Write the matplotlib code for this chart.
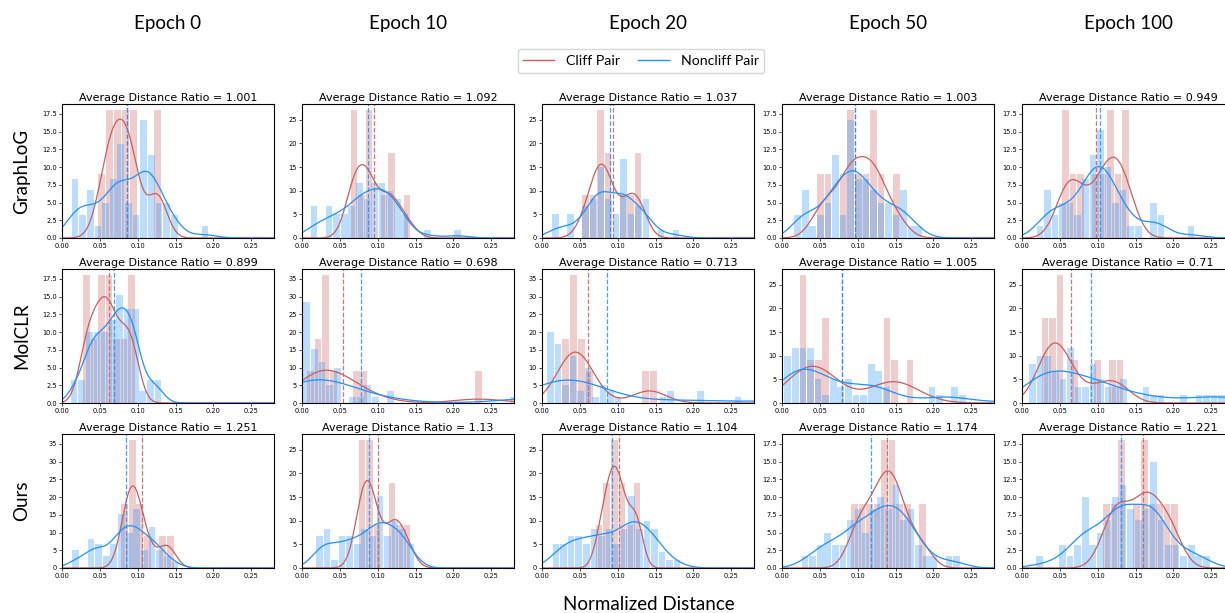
import numpy as np
import matplotlib
matplotlib.use("Agg")
import matplotlib.pyplot as plt
from matplotlib.lines import Line2D
from matplotlib.ticker import MaxNLocator, FormatStrFormatter

methods = ["GraphLoG", "MolCLR", "Ours"]
epochs = ["Epoch 0", "Epoch 10", "Epoch 20", "Epoch 50", "Epoch 100"]
ratio_labels = [
    ["1.001", "1.092", "1.037", "1.003", "0.949"],
    ["0.899", "0.698", "0.713", "1.005", "0.71"],
    ["1.251", "1.13", "1.104", "1.174", "1.221"],
]

# mean normalized distance per panel (dashed lines)
cliff_mean = [
    [0.0853, 0.0948, 0.0935, 0.0965, 0.0978],
    [0.0620, 0.0548, 0.0614, 0.0790, 0.0645],
    [0.1060, 0.1000, 0.1016, 0.1385, 0.1600],
]
noncliff_mean = [
    [0.0853, 0.0869, 0.0900, 0.0965, 0.1030],
    [0.0690, 0.0780, 0.0860, 0.0790, 0.0908],
    [0.0844, 0.0890, 0.0920, 0.1180, 0.1310],
]

# histograms: (first bin centre, bin width, density per bin)
graphlog_cliff = [
    (0.0523, 0.0105, [9, 18, 18, 18, 18, 0, 0, 18]),
    (0.0685, 0.0100, [27, 9, 27, 0, 9, 18, 0, 9]),
    (0.0575, 0.0099, [9, 9, 27, 18, 0, 9, 9, 18]),
    (0.0509, 0.0100, [9, 9, 0, 9, 18, 9, 9, 18, 9, 0, 9]),
    (0.0575, 0.0099, [18, 9, 9, 0, 9, 9, 18, 9, 18]),
]
graphlog_noncliff = [
    (0.0171, 0.0101, [8.3, 3.3, 6.7, 1.7, 5.0, 8.3, 13.3, 5.0, 3.3, 16.7, 11.7, 5.0, 5.0, 3.3, 0, 0, 0, 1.7]),
    (0.0158, 0.0100, [6.7, 0, 6.7, 5.0, 5.0, 6.7, 11.7, 8.3, 11.7, 11.7, 10.0, 8.3, 5.0, 0, 0, 1.7, 0, 0, 0, 1.7]),
    (0.0180, 0.00995, [5.0, 0, 5.0, 0, 6.7, 8.3, 15.0, 8.3, 5.0, 16.7, 5.0, 6.7, 8.3, 0, 1.7, 0, 1.7]),
    (0.0206, 0.0100, [3.3, 6.7, 1.7, 3.3, 5.0, 11.7, 3.3, 16.7, 8.3, 8.3, 6.7, 5.0, 5.0, 3.3, 6.7, 1.7, 1.7]),
    (0.0237, 0.00998, [1.7, 6.7, 3.3, 5.0, 5.0, 3.3, 8.3, 11.7, 15.2, 10.0, 5.0, 6.7, 1.7, 1.7, 0, 5.0, 3.3, 0, 0, 0, 1.7]),
]
molclr_cliff = [
    (0.0325, 0.0099, [18, 9, 18, 18, 9, 9, 18]),
    (0.0110, 0.0101, [9, 18, 36, 9, 0, 0, 9, 9] + [0] * 14 + [9]),
    (0.0316, 0.0105, [18, 36, 18, 9, 0, 0, 0, 0, 0, 0, 9, 9]),
    (0.0276, 0.0101, [27, 9, 9, 18, 0, 0, 0, 0, 0, 0, 0, 18, 9, 0, 9]),
    (0.0303, 0.0099, [18, 18, 27, 0, 9, 0, 0, 9, 0, 9, 9]),
]
molclr_noncliff = [
    (0.0158, 0.0101, [3.3, 3.3, 10.0, 10.0, 10.0, 11.7, 15.2, 13.3, 13.3, 1.7, 3.3, 3.3]),
    (0.0061, 0.0101, [28.6, 15.2, 11.7, 5.0, 10.0, 0, 1.7, 1.7, 5.0, 1.7, 0, 3.3] + [0] * 15
     + [1.7, 1.7, 1.7, 3.3, 1.7, 3.3, 1.7, 1.7]),
    (0.0114, 0.0099, [20.0, 16.7, 5.0, 13.3, 3.3, 10.0, 1.7, 5.0, 3.3, 1.7, 0, 0, 0, 0, 0, 1.7, 3.3,
                      0, 0, 0, 3.3, 0, 0, 0, 0, 1.7, 0, 0, 0, 1.7, 0, 0, 1.7, 0, 3.3, 0, 0, 1.7, 0, 0, 1.7]),
    (0.0075, 0.01003, [10.0, 11.7, 11.7, 11.7, 5.0, 1.7, 5.0, 3.3, 5.0, 1.7, 1.7, 8.3, 6.7, 3.3,
                       0, 0, 0, 0, 0, 3.3, 1.7, 0, 3.3, 1.7, 0, 0, 0, 0, 0, 1.7]),
    (0.0140, 0.00998, [8.3, 10.0, 10.0, 6.7, 5.0, 11.7, 3.3, 3.3, 8.3, 5.0, 3.3, 3.3, 5.0, 0, 0,
                       3.3, 1.7, 1.7, 0, 0, 1.7, 0, 1.7, 1.7, 1.7, 1.7, 1.7, 1.7]),
]
ours_cliff = [
    (0.0826, 0.0101, [18, 36, 18, 9, 0, 9, 9]),
    (0.0794, 0.0099, [27, 27, 9, 0, 18, 9, 9]),
    (0.0755, 0.0100, [9, 18, 27, 18, 9, 18]),
    (0.0955, 0.0100, [9, 9, 9, 9, 18, 18, 9, 9, 0, 9]),
    (0.1115, 0.0100, [9, 9, 18, 0, 9, 18, 9, 9, 9, 9]),
]
ours_noncliff = [
    (0.0180, 0.0101, [5.0, 0, 8.3, 6.7, 3.3, 6.7, 15.2, 10.0, 16.7, 5.0, 11.7, 5.0, 3.3, 1.7]),
    (0.0228, 0.01002, [6.7, 8.3, 1.7, 6.7, 6.7, 5.0, 8.3, 6.7, 15.2, 6.7, 10.0, 8.3, 5.0]),
    (0.0185, 0.0100, [5.0, 5.0, 6.7, 6.7, 5.0, 8.3, 6.7, 8.3, 5.0, 8.3, 15.2, 8.3, 10.0, 8.3, 3.3, 1.7, 1.7]),
    (0.0305, 0.0100, [1.7, 1.7, 3.3, 5.0, 3.3, 3.3, 6.7, 8.3, 5.0, 8.3, 10.0, 8.3, 11.7, 6.7, 8.3, 3.3,
                      1.7, 1.7, 0, 1.7, 1.7]),
    (0.0235, 0.0100, [1.7, 0, 0, 3.3, 1.7, 3.3, 10.0, 3.3, 5.0, 6.7, 10.0, 11.7, 8.3, 6.7, 8.3, 15.0,
                      6.7, 3.3, 3.3, 1.7, 3.3, 1.7, 1.7]),
]

cliff_hists = [graphlog_cliff, molclr_cliff, ours_cliff]
noncliff_hists = [graphlog_noncliff, molclr_noncliff, ours_noncliff]

RED = "indianred"
BLUE = "dodgerblue"
HEAD_FONT = "Lato"
BW_ADJUST = 0.9


def kde_curve(first, width, heights, grid):
    """Gaussian KDE (Scott's rule) of the binned sample, scaled like the density histogram."""
    h = np.asarray(heights, dtype=float)
    centres = first + width * np.arange(len(h))
    n = round(h.sum() / h[h > 0].min())
    mu = np.average(centres, weights=h)
    sd = np.sqrt(np.average((centres - mu) ** 2, weights=h))
    bw = BW_ADJUST * sd * n ** (-0.2)
    z = (grid[:, None] - centres[None, :]) / bw
    return (h * width * np.exp(-0.5 * z ** 2)).sum(axis=1) / (bw * np.sqrt(2 * np.pi))


def draw_hist(ax, first, width, heights, color):
    h = np.asarray(heights, dtype=float)
    centres = first + width * np.arange(len(h))
    ax.bar(centres, h, width=width * 0.88, color=color, alpha=0.3, linewidth=0)


W, H = 1225, 613
fig = plt.figure(figsize=(W / 100, H / 100), dpi=100)
grid = np.linspace(0, 0.28, 500)

for i in range(3):
    for j in range(5):
        left, top = 62 + 240 * j, 104 + 165 * i
        ax = fig.add_axes([left / W, 1 - (top + 134) / H, 212 / W, 134 / H])
        c_first, c_w, c_h = cliff_hists[i][j]
        n_first, n_w, n_h = noncliff_hists[i][j]
        draw_hist(ax, c_first, c_w, c_h, RED)
        draw_hist(ax, n_first, n_w, n_h, BLUE)
        ax.plot(grid, kde_curve(c_first, c_w, c_h, grid), color=RED, lw=0.9)
        ax.plot(grid, kde_curve(n_first, n_w, n_h, grid), color=BLUE, lw=0.9)
        ax.axvline(cliff_mean[i][j], color=RED, ls="--", lw=0.9, alpha=0.85)
        ax.axvline(noncliff_mean[i][j], color=BLUE, ls="--", lw=0.9, alpha=0.85)
        ax.set_xlim(0, 0.28)
        ax.set_xticks([0, 0.05, 0.10, 0.15, 0.20, 0.25])
        ax.xaxis.set_major_formatter(FormatStrFormatter("%.2f"))
        ax.yaxis.set_major_locator(MaxNLocator(nbins=8, steps=[1, 2, 2.5, 5, 10]))
        ax.tick_params(labelsize=4.8, length=2, width=0.5, pad=1.5)
        for sp in ax.spines.values():
            sp.set_linewidth(0.8)
        ax.set_title(f"Average Distance Ratio = {ratio_labels[i][j]}", fontsize=8, pad=2.5)

for j, name in enumerate(epochs):
    fig.text((62 + 240 * j + 106) / W, 1 - 24 / H, name, ha="center", va="center",
             fontsize=13.5, family=HEAD_FONT)
for i, name in enumerate(methods):
    fig.text(22 / W, 1 - (104 + 165 * i + 67) / H, name, ha="center", va="center",
             rotation=90, fontsize=13.5, family=HEAD_FONT)
fig.text(649 / W, 1 - 604 / H, "Normalized Distance", ha="center", va="center",
         fontsize=13.5, family=HEAD_FONT)

handles = [Line2D([], [], color=RED, lw=1), Line2D([], [], color=BLUE, lw=1)]
fig.legend(handles, ["Cliff Pair", "Noncliff Pair"], loc="center", ncol=2,
           bbox_to_anchor=(641 / W, 1 - 61 / H), prop={"family": HEAD_FONT, "size": 10.2},
           handlelength=2.2, columnspacing=1.3, borderpad=0.4)

fig.savefig("out.png", dpi=100)
